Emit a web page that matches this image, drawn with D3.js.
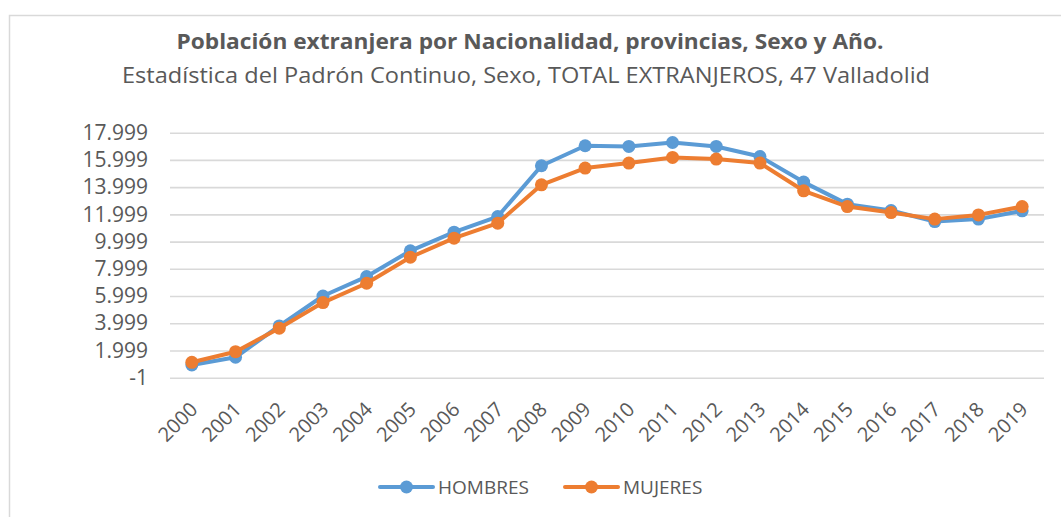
<!DOCTYPE html>
<html>
<head>
<meta charset="utf-8">
<script src="https://cdn.jsdelivr.net/npm/d3@7"></script>
<style>
  body { margin: 0; background: #fff; }
  svg text { font-family: "Open Sans", "Liberation Sans", sans-serif; fill: #595959; }
</style>
</head>
<body>
<svg id="chart" width="1061" height="517"></svg>
<script>
// data
var years = ["2000","2001","2002","2003","2004","2005","2006","2007","2008","2009",
             "2010","2011","2012","2013","2014","2015","2016","2017","2018","2019"];
var hombres = [934, 1500, 3800, 6000, 7430, 9320, 10690, 11840, 15570, 17040,
               16990, 17280, 16990, 16250, 14370, 12750, 12280, 11470, 11650, 12260];
var mujeres = [1130, 1910, 3630, 5520, 6940, 8850, 10250, 11350, 14170, 15400,
               15770, 16180, 16060, 15770, 13730, 12570, 12130, 11650, 11960, 12570];
var yTicks = [-1, 1999, 3999, 5999, 7999, 9999, 11999, 13999, 15999, 17999];
var seriesNames = ["HOMBRES", "MUJERES"];
var colors = ["#5B9BD5", "#ED7D31"];

var svg = d3.select("#chart");

var esFormat = d3.formatLocale({decimal: ",", thousands: ".", grouping: [3], currency: ["", "€"], minus: "-"}).format(",d");

// chart frame (only top + left edge visible in the reference)
svg.append("rect")
    .attr("x", 9.5).attr("y", 15.5)
    .attr("width", 1080).attr("height", 540)
    .attr("fill", "none")
    .attr("stroke", "#D9D9D9")
    .attr("stroke-width", 1.5);

svg.append("text")
    .attr("x", 530).attr("y", 49)
    .attr("text-anchor", "middle")
    .attr("font-size", 21).attr("font-weight", "bold")
    .attr("textLength", 707).attr("lengthAdjust", "spacingAndGlyphs")
    .text("Población extranjera por Nacionalidad, provincias, Sexo y Año.");

svg.append("text")
    .attr("x", 526).attr("y", 83)
    .attr("text-anchor", "middle")
    .attr("font-size", 21)
    .attr("textLength", 808).attr("lengthAdjust", "spacingAndGlyphs")
    .text("Estadística del Padrón Continuo, Sexo, TOTAL EXTRANJEROS, 47 Valladolid");

var left = 170, right = 1044;

var xScale = d3.scaleBand().domain(years).range([left, right]);
var yScale = d3.scaleLinear().domain([-1, 17999]).range([377.7, 132.7]);

//gridlines + y labels
var yAxis = svg.append("g")
    .attr("transform", "translate(" + left + ",0)")
    .call(d3.axisLeft(yScale).tickValues(yTicks).tickFormat(esFormat)
        .tickSize(-(right - left)).tickPadding(22));
yAxis.select(".domain").remove();
yAxis.selectAll("line").attr("stroke", "#D9D9D9").attr("stroke-width", 1.6);
yAxis.selectAll("text").attr("font-size", 21).attr("fill", "#595959");

//x labels rotated
var xAxis = svg.append("g")
    .attr("transform", "translate(0,377.7)")
    .call(d3.axisBottom(xScale).tickSize(0).tickPadding(0));
xAxis.select(".domain").remove();
xAxis.selectAll("text")
    .attr("font-size", 20)
    .attr("fill", "#595959")
    .attr("text-anchor", "end")
    .attr("x", 0).attr("y", 0).attr("dy", 0)
    .attr("transform", "translate(7,33) rotate(-45)");

var cx = function(d, i) { return xScale(years[i]) + xScale.bandwidth() / 2; };

var line = d3.line()
    .x(function(d, i) { return cx(d, i); })
    .y(function(d) { return yScale(d); });

[hombres, mujeres].forEach(function(vals, s) {
    svg.append("path")
        .datum(vals)
        .attr("d", line)
        .attr("fill", "none")
        .attr("stroke", colors[s])
        .attr("stroke-width", 4)
        .attr("stroke-linejoin", "round");
    svg.append("g").selectAll("circle")
        .data(vals)
        .enter().append("circle")
        .attr("cx", cx)
        .attr("cy", function(d) { return yScale(d); })
        .attr("r", 6.5)
        .attr("fill", colors[s]);
});

//legend
var legendX = [380, 565];
seriesNames.forEach(function(name, s) {
    var g = svg.append("g").attr("transform", "translate(" + legendX[s] + ",487)");
    g.append("line")
        .attr("x1", 0).attr("x2", 53)
        .attr("stroke", colors[s]).attr("stroke-width", 4)
        .attr("stroke-linecap", "round");
    g.append("circle").attr("cx", 26.5).attr("r", 6.5).attr("fill", colors[s]);
    g.append("text")
        .attr("x", 58).attr("y", 7)
        .attr("font-size", 19)
        .text(name);
});
</script>
</body>
</html>
